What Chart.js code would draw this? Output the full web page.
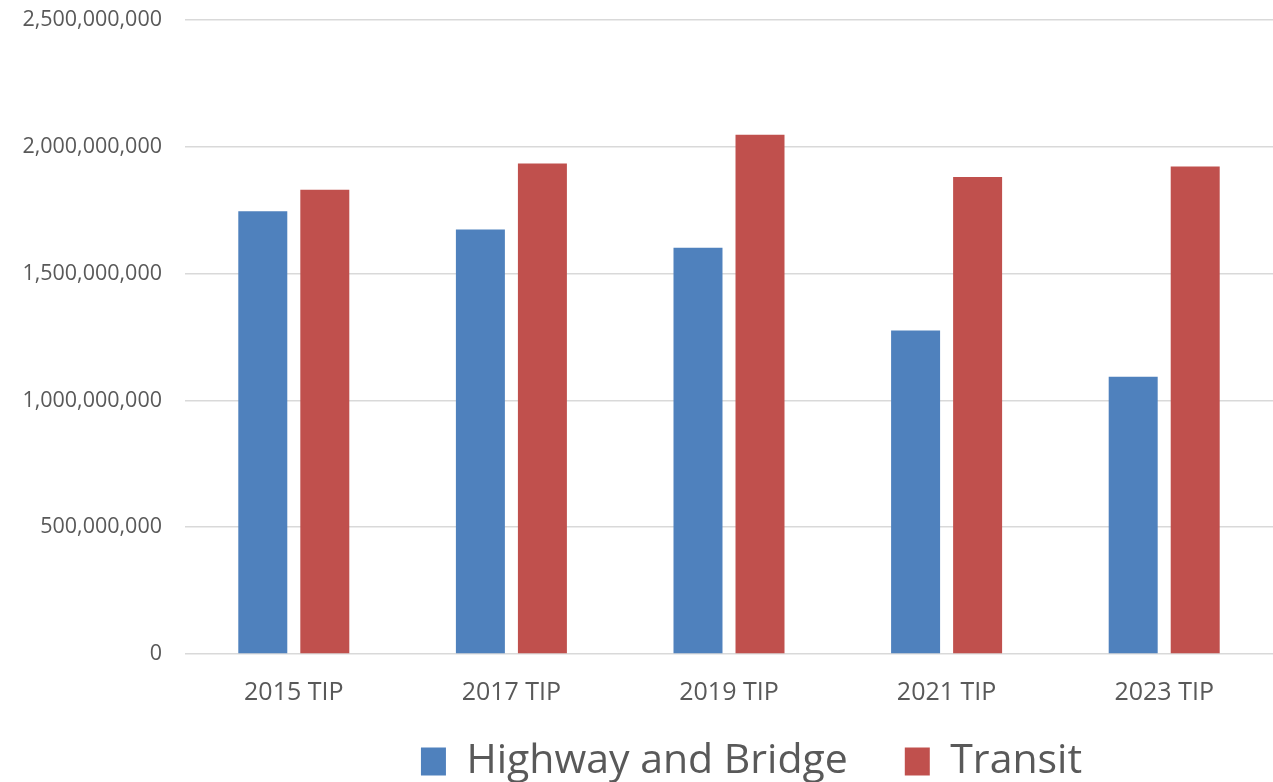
<!DOCTYPE html>
<html>
<head>
<meta charset="utf-8">
<script src="https://cdn.jsdelivr.net/npm/chart.js@4/dist/chart.umd.min.js"></script>
<style>
  html, body { margin: 0; padding: 0; background: #fff; }
  #wrap { width: 1273px; height: 782px; }
</style>
</head>
<body>
<div id="wrap"><canvas id="tipChart"></canvas></div>
<script>
// TIP programmed funding by mode
var programs = ['2015 TIP', '2017 TIP', '2019 TIP', '2021 TIP', '2023 TIP'];
var highwayBridge = [1746000000, 1674000000, 1602000000, 1276000000, 1093000000];
var transit = [1831000000, 1934000000, 2048000000, 1881000000, 1922000000];
var yTicks = [0, 500000000, 1000000000, 1500000000, 2000000000, 2500000000];

var textColor = '#595959';
var gridColor = '#d9d9d9';

// place the legend row: wide item spacing, sits a bit right of centre
var legendShift = {
    id: 'legendShift',
    afterLayout: function(chart) {
        var lg = chart.legend;
        if (!lg) return;
        lg.left += 115;
        lg.right += 115;
        lg.top = 684;
        lg.bottom = chart.height;
    }
};

var ctx = document.getElementById('tipChart');
var chart = new Chart(ctx, {
    type: 'bar',
    data: {
        labels: programs,
        datasets: [{
            label: 'Highway and Bridge',
            data: highwayBridge,
            backgroundColor: '#4f81bd',
            borderWidth: 0
        }, {
            label: 'Transit',
            data: transit,
            backgroundColor: '#c0504d',
            borderWidth: 0
        }]
    },
    options: {
        responsive: true,
        maintainAspectRatio: false,
        animation: false,
        layout: {
            padding: { top: 20, right: 0, bottom: -27, left: 0 }
        },
        datasets: {
            bar: {
                categoryPercentage: 0.57,
                barPercentage: 0.79
            }
        },
        scales: {
            x: {
                grid: { display: false, drawTicks: false },
                border: { display: false },
                ticks: {
                    color: textColor,
                    padding: 24,
                    font: { family: 'Open Sans', size: 25 }
                }
            },
            y: {
                min: 0,
                max: yTicks[yTicks.length - 1],
                grid: {
                    color: gridColor,
                    lineWidth: 1.5,
                    drawTicks: true,
                    tickLength: 23,
                    tickColor: 'rgba(0,0,0,0)'
                },
                border: { display: false },
                afterBuildTicks: function(scale) {
                    scale.ticks = yTicks.map(function(v) { return { value: v }; });
                },
                afterFit: function(scale) { scale.width = 185; },
                ticks: {
                    color: textColor,
                    padding: 0,
                    font: { family: 'Open Sans', size: 21.5 },
                    callback: function(v) { return Number(v).toLocaleString('en-US'); }
                }
            }
        },
        plugins: {
            tooltip: { enabled: false },
            legend: {
                position: 'bottom',
                maxHeight: 77,
                labels: {
                    color: textColor,
                    boxWidth: 25,
                    boxHeight: 28,
                    padding: 57,
                    font: { family: 'Open Sans', size: 41 }
                }
            }
        }
    },
    plugins: [legendShift]
});
</script>
</body>
</html>
